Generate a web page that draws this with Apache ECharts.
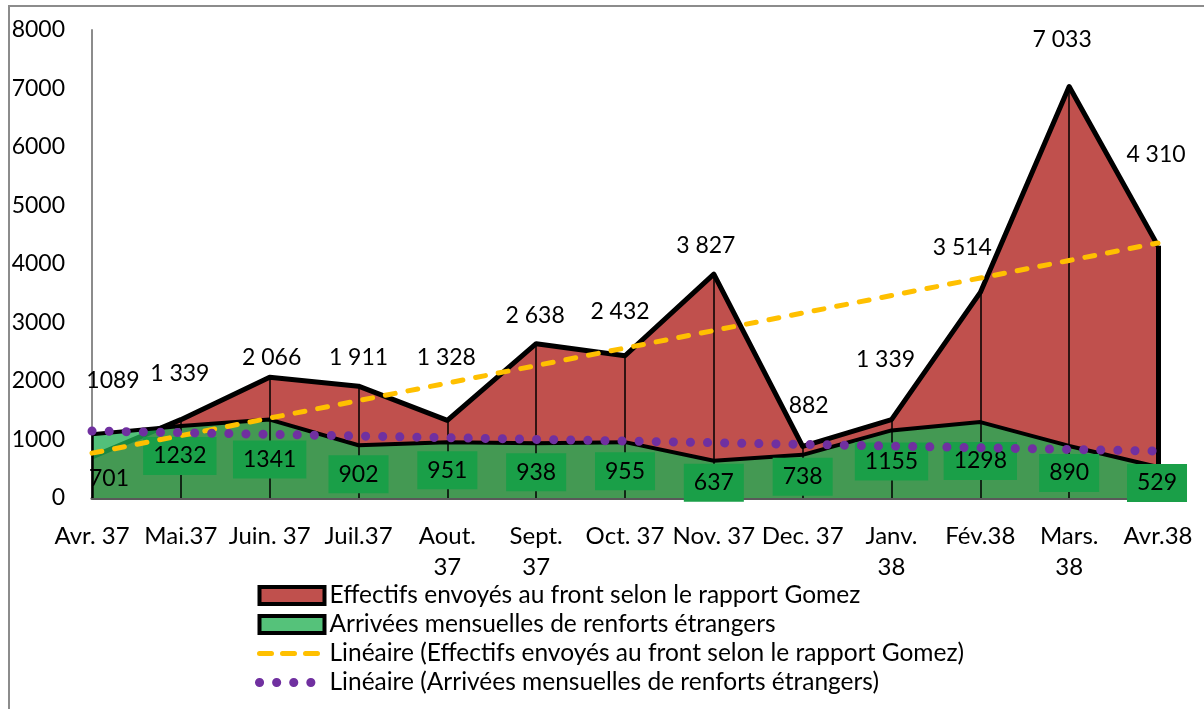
<html>
<head>
    <meta charset="utf-8">
    <title>Effectifs</title>
    <script src="https://cdn.jsdelivr.net/npm/echarts@6.0.0/dist/echarts.min.js"></script>
    <style>
        body { margin: 0; background: #fff; }
        #chartmain { width: 1204px; height: 709px; }
    </style>
</head>
<body>
    <div id="chartmain"></div>

    <script type="text/javascript">

        // categories (mois)
        var mois = ['Avr. 37', 'Mai.37', 'Juin. 37', 'Juil.37', 'Aout.\n37', 'Sept.\n37', 'Oct. 37',
            'Nov. 37', 'Dec. 37', 'Janv.\n38', 'Fév.38', 'Mars.\n38', 'Avr.38'];

        // Effectifs envoyés au front selon le rapport Gomez
        var effectifs = [701, 1339, 2066, 1911, 1328, 2638, 2432, 3827, 882, 1339, 3514, 7033, 4310];

        // Arrivées mensuelles de renforts étrangers
        var arrivees = [1089, 1232, 1341, 902, 951, 938, 955, 637, 738, 1155, 1298, 890, 529];

        var yTicks = [0, 1000, 2000, 3000, 4000, 5000, 6000, 7000, 8000];

        var nomRouge = 'Effectifs envoyés au front selon le rapport Gomez';
        var nomVert = 'Arrivées mensuelles de renforts étrangers';
        var nomTrendRouge = 'Linéaire (Effectifs envoyés au front selon le rapport Gomez)';
        var nomTrendVert = 'Linéaire (Arrivées mensuelles de renforts étrangers)';

        // décalage des étiquettes (px), comme placées à la main dans le tableur
        var decalRouge = [[17, 22], [-1, -46], [2, -20], [0, -29], [-1, -63], [-1, -28], [-5, -44],
            [-8, -29], [6, -41], [-6, -60], [-18, -45], [-7, -47], [-2, -91]];
        var decalVert = [[21, -54], [-1, 30], [0, 40], [0, 29], [0, 28], [0, 29], [0, 29],
            [0, 22], [0, 22], [0, 31], [0, 39], [0, 27], [-1, 16]];

        // courbe de tendance linéaire (moindres carrés, comme le tableur)
        function tendance(arr) {
            var n = arr.length, sx = 0, sy = 0, sxy = 0, sxx = 0;
            arr.forEach(function (v, i) { sx += i; sy += v; sxy += i * v; sxx += i * i; });
            var a = (n * sxy - sx * sy) / (n * sxx - sx * sx);
            var b = (sy - a * sx) / n;
            return arr.map(function (v, i) { return +(a * i + b).toFixed(1); });
        }

        function milliers(v) {
            return String(v).replace(/\B(?=(\d{3})+(?!\d))/g, ' ');
        }

        var police = 'Lato';

        var myChart = echarts.init(document.getElementById('chartmain'));

        var etiqRouge = effectifs.map(function (v, i) {
            return { value: v, label: { offset: decalRouge[i] } };
        });

        var etiqVert = arrivees.map(function (v, i) {
            var boite = i > 0;
            return {
                value: v,
                label: {
                    offset: decalVert[i],
                    backgroundColor: boite ? '#1a9f48' : 'transparent',
                    padding: boite ? [8, 10, 7, 10] : 0
                }
            };
        });

        // traits verticaux (lignes de projection)
        var traits = effectifs.map(function (v, i) {
            var w = 1.5;
            if (i === 0) w = 2.5;
            if (i === effectifs.length - 1) w = 5;
            return [{ coord: [i, 0], lineStyle: { width: w } }, { coord: [i, Math.max(v, arrivees[i])] }];
        });

        // série invisible qui ne porte que les étiquettes
        function serieEtiquettes(nom, data, fmt) {
            return {
                name: nom,
                type: 'line',
                z: 5,
                data: data,
                symbol: 'circle',
                symbolSize: 0.01,
                silent: true,
                lineStyle: { color: 'transparent', width: 0 },
                itemStyle: { color: 'transparent' },
                label: {
                    show: true,
                    position: 'inside',
                    fontSize: 23,
                    color: '#000',
                    formatter: fmt
                }
            };
        }

        myChart.setOption({
            animation: false,
            textStyle: { fontFamily: police },
            graphic: [{
                type: 'rect',
                shape: { x: 9, y: 6, width: 1400, height: 760 },
                style: { fill: 'none', stroke: '#8c8c8c', lineWidth: 2 },
                silent: true
            }],
            grid: {
                left: 92,
                right: 46,
                top: 30,
                bottom: 211
            },
            legend: {
                orient: 'vertical',
                left: 250,
                top: 578,
                height: 140,
                itemWidth: 65,
                itemHeight: 17,
                itemGap: 4,
                textStyle: { fontSize: 24.5, color: '#000', fontFamily: police },
                data: [
                    { name: nomRouge, icon: 'rect', itemStyle: { color: '#c0504d', borderColor: '#000', borderWidth: 4 } },
                    { name: nomVert, icon: 'rect', itemStyle: { color: '#55c27a', borderColor: '#000', borderWidth: 4 } },
                    {
                        name: nomTrendRouge,
                        itemStyle: { opacity: 0 },
                        lineStyle: { color: '#ffc000', width: 5, type: [12, 11], cap: 'round' }
                    },
                    {
                        name: nomTrendVert,
                        itemStyle: { opacity: 0 },
                        lineStyle: { color: '#7030a0', width: 9, type: [0.1, 17], cap: 'round' }
                    }
                ]
            },
            xAxis: {
                type: 'category',
                boundaryGap: false,
                data: mois,
                axisLine: { lineStyle: { color: '#595959', width: 3 } },
                axisTick: { show: false },
                axisLabel: {
                    fontSize: 24,
                    color: '#000',
                    margin: 23,
                    lineHeight: 31,
                    interval: 0
                }
            },
            yAxis: {
                type: 'value',
                min: yTicks[0],
                max: yTicks[yTicks.length - 1],
                interval: 1000,
                axisLine: { show: true, lineStyle: { color: '#8c8c8c', width: 2 } },
                axisTick: { show: false },
                splitLine: { show: false },
                axisLabel: {
                    fontSize: 23,
                    color: '#000',
                    margin: 27,
                    formatter: function (v) { return String(v); }
                }
            },
            series: [
                {
                    name: nomRouge,
                    type: 'line',
                    z: 1,
                    data: effectifs,
                    symbol: 'none',
                    lineStyle: { color: '#000', width: 5, join: 'round' },
                    itemStyle: { color: '#c0504d' },
                    areaStyle: { color: '#c0504d', opacity: 1 }
                },
                {
                    name: nomVert,
                    type: 'line',
                    z: 2,
                    data: arrivees,
                    symbol: 'none',
                    lineStyle: { color: '#000', width: 4, join: 'round' },
                    itemStyle: { color: '#55c27a' },
                    areaStyle: { color: 'rgb(33,174,85)', opacity: 0.78 },
                    markLine: {
                        z: 3,
                        silent: true,
                        symbol: 'none',
                        label: { show: false },
                        lineStyle: { color: '#000', type: 'solid', width: 1.5 },
                        data: traits
                    }
                },
                serieEtiquettes('etiq-rouge', etiqRouge, function (p) { return milliers(p.value); }),
                serieEtiquettes('etiq-vert', etiqVert, function (p) { return String(p.value); }),
                {
                    name: nomTrendRouge,
                    type: 'line',
                    z: 7,
                    data: tendance(effectifs),
                    symbol: 'none',
                    itemStyle: { color: '#ffc000' },
                    lineStyle: { color: '#ffc000', width: 5, type: [10, 13], cap: 'round' }
                },
                {
                    name: nomTrendVert,
                    type: 'line',
                    z: 7,
                    data: tendance(arrivees),
                    symbol: 'none',
                    itemStyle: { color: '#7030a0' },
                    lineStyle: { color: '#7030a0', width: 9, type: [0.1, 17], cap: 'round' }
                }
            ]
        });

    </script>
</body>
</html>
